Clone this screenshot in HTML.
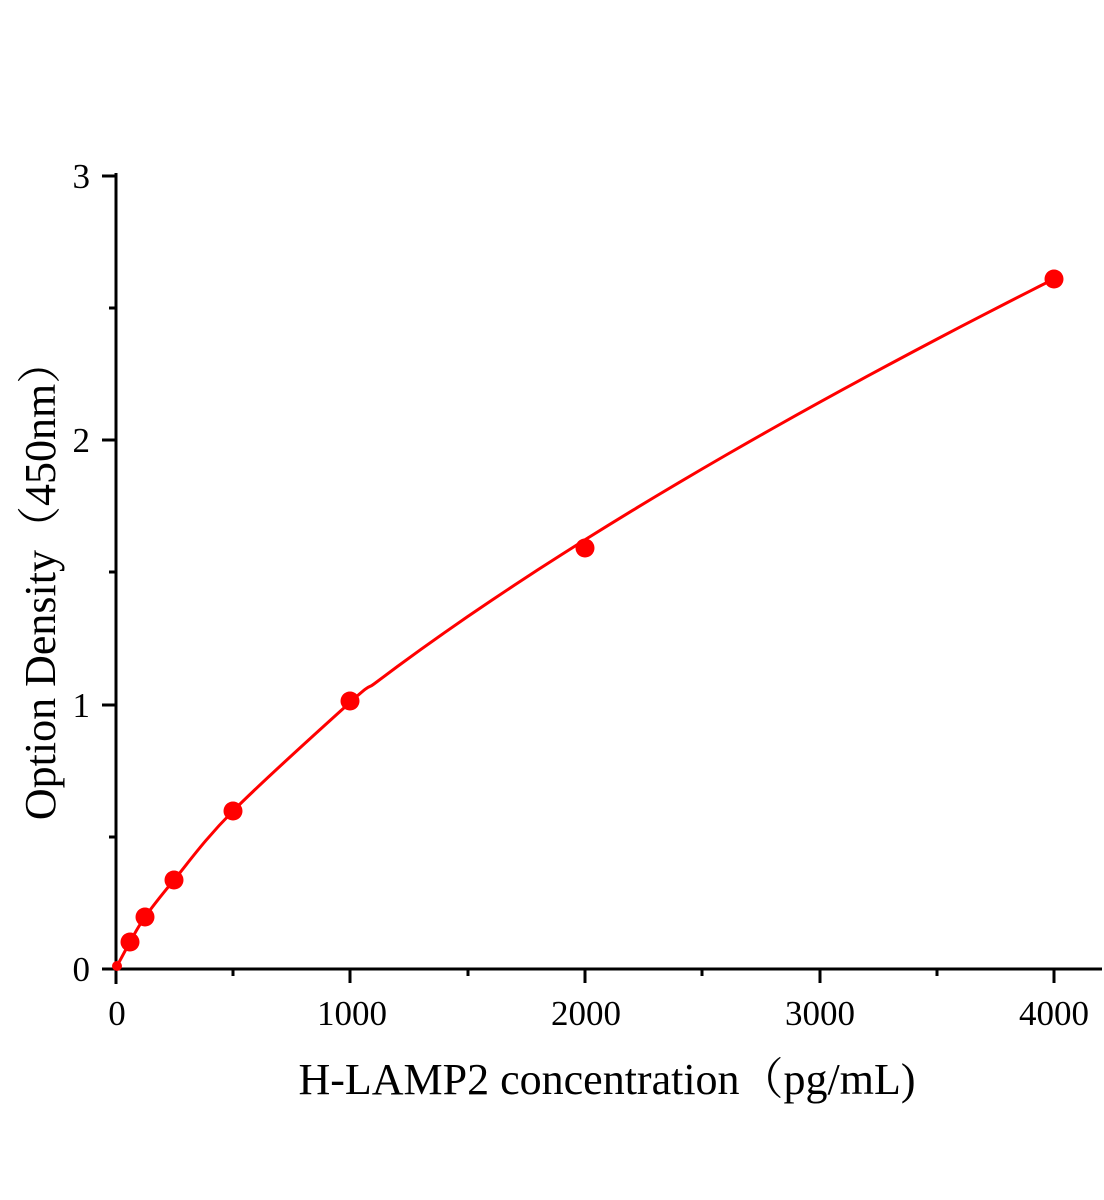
<!DOCTYPE html>
<html><head><meta charset="utf-8"><style>
html,body{margin:0;padding:0;background:#fff;width:1104px;height:1200px;overflow:hidden}
</style></head><body>
<svg width="1104" height="1200" xmlns="http://www.w3.org/2000/svg" font-family="Liberation Serif, serif">
<g stroke="#000" stroke-width="3" fill="none">
<line x1="116" y1="173" x2="116" y2="984"/>
<line x1="102" y1="969" x2="1102" y2="969"/>
<line x1="102" y1="176" x2="116" y2="176"/>
<line x1="102" y1="440" x2="116" y2="440"/>
<line x1="102" y1="705" x2="116" y2="705"/>
<line x1="109" y1="308" x2="116" y2="308"/>
<line x1="109" y1="572" x2="116" y2="572"/>
<line x1="109" y1="837" x2="116" y2="837"/>
<line x1="350" y1="969" x2="350" y2="983"/>
<line x1="585" y1="969" x2="585" y2="983"/>
<line x1="820" y1="969" x2="820" y2="983"/>
<line x1="1054" y1="969" x2="1054" y2="983"/>
<line x1="233" y1="969" x2="233" y2="976"/>
<line x1="468" y1="969" x2="468" y2="976"/>
<line x1="702" y1="969" x2="702" y2="976"/>
<line x1="937" y1="969" x2="937" y2="976"/>
</g>
<g font-size="35" fill="#000" text-anchor="end">
<text x="90" y="188">3</text>
<text x="90" y="452">2</text>
<text x="90" y="717">1</text>
<text x="90" y="981">0</text>
</g>
<g font-size="35" fill="#000" text-anchor="middle">
<text x="117" y="1025">0</text>
<text x="352" y="1025">1000</text>
<text x="586" y="1025">2000</text>
<text x="820" y="1025">3000</text>
<text x="1054" y="1025">4000</text>
</g>
<text x="607" y="1094" font-size="44" text-anchor="middle" font-family="Liberation Serif, 'Noto Serif CJK SC', serif">H-LAMP2 concentration（pg/mL)</text>
<text transform="translate(55,580) rotate(-90)" font-size="44" text-anchor="middle" font-family="Liberation Serif, 'Noto Serif CJK SC', serif">Option Density（450nm）</text>
<path id="curve" fill="none" stroke="#f00" stroke-width="3"/>
<g fill="#f00">
<circle cx="117" cy="966" r="5"/>
<circle cx="130" cy="942" r="9.5"/>
<circle cx="145" cy="917" r="9.5"/>
<circle cx="174" cy="880" r="9.5"/>
<circle cx="233" cy="811" r="9.5"/>
<circle cx="350" cy="701" r="9.5"/>
<circle cx="585" cy="548" r="9.5"/>
<circle cx="1054" cy="279" r="9.5"/>
</g>
</svg>
<script>
var p=[[116,968],[130,942],[145,917],[174,880],[233,811]];
for(var x=1000;x<=4000;x+=100){var y=0.0089*Math.pow(x,0.685);p.push([116+x*0.2345,969-y*264.3]);}
var d="M"+p[0][0]+","+p[0][1];
for(var i=0;i<p.length-1;i++){
var p0=p[i-1]||p[i],p1=p[i],p2=p[i+1],p3=p[i+2]||p[i+1];
var c1=[p1[0]+(p2[0]-p0[0])/6,p1[1]+(p2[1]-p0[1])/6];
var c2=[p2[0]-(p3[0]-p1[0])/6,p2[1]-(p3[1]-p1[1])/6];
d+=" C"+c1.join(",")+" "+c2.join(",")+" "+p2.join(",");}
document.getElementById("curve").setAttribute("d",d);
</script>
</body></html>
